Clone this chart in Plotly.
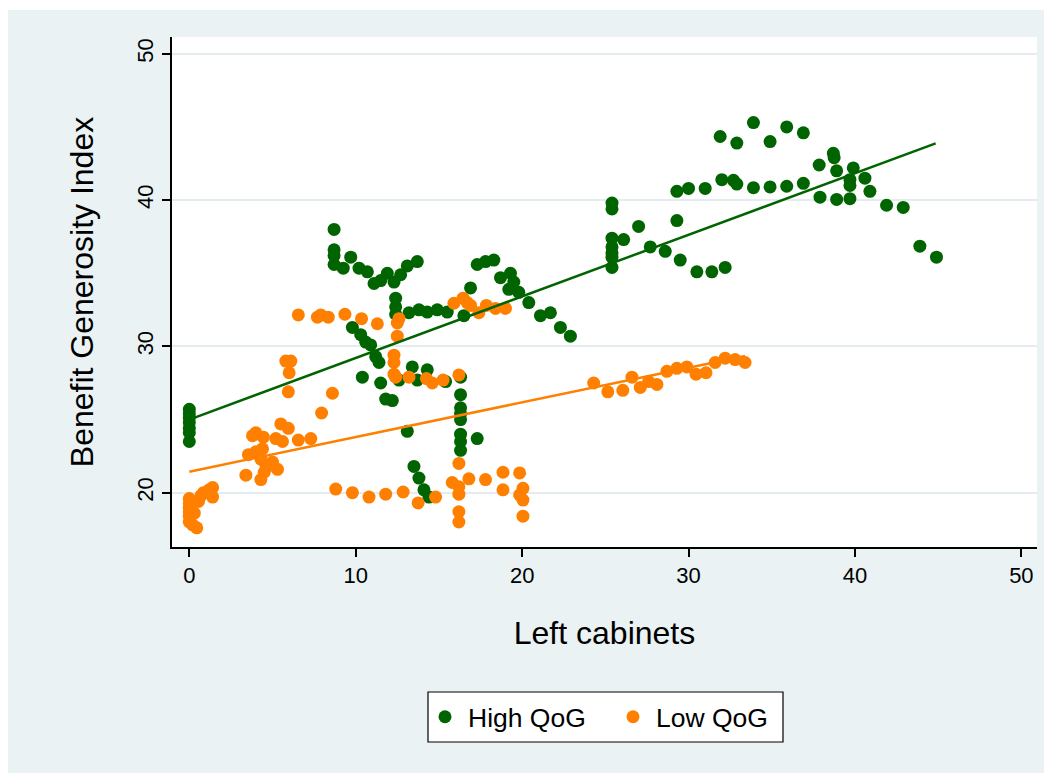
import plotly.graph_objects as go

# ---------------- data ----------------
high_x = [0, 0, 0, 0, 0, 0, 0,
          8.7, 8.7, 8.7, 8.7, 9.25, 9.7, 10.2, 10.7, 11.1, 11.5, 11.9, 12.3, 12.7, 13.1, 13.7,
          12.4, 12.4, 12.4, 13.2, 13.8, 14.3, 14.9, 15.5, 16.5, 16.9,
          9.8, 10.3, 10.6, 10.9, 11.2, 11.4, 10.4, 11.5, 11.8, 12.2, 12.6, 13.4, 13.7, 14.3, 15.4, 13.1,
          13.5, 13.8, 14.1, 14.4,
          16.3, 16.3, 16.3, 16.3, 16.3, 16.3, 16.3, 16.3, 17.3,
          17.3, 17.8, 18.3, 18.7, 19.3, 19.5, 19.2, 19.8, 20.4, 21.1, 21.7, 22.3, 22.9,
          25.4, 25.4, 25.4, 25.4, 25.4, 25.4, 25.4,
          26.1, 27.0, 27.7, 28.6, 29.3, 29.5,
          29.3, 30.0, 30.5, 31.4, 32.2, 31.0, 32.0, 32.7, 32.9, 33.9, 34.9, 35.9, 36.9, 37.9, 38.9,
          31.9, 32.9, 33.9, 34.9, 35.9, 36.9, 37.85, 38.7, 38.75, 38.9, 39.9, 40.6, 39.7, 39.7, 40.9, 39.7,
          41.9, 42.9, 43.9, 44.9]
high_y = [25.7, 25.4, 25.1, 24.8, 24.4, 24.1, 23.5,
          38.0, 36.6, 36.2, 35.6, 35.35, 36.1, 35.35, 35.1, 34.3, 34.5, 35.0, 34.4, 34.9, 35.5, 35.8,
          33.3, 32.7, 32.2, 32.3, 32.5, 32.35, 32.5, 32.35, 32.1, 34.0,
          31.3, 30.8, 30.3, 30.1, 29.3, 28.9, 27.9, 27.5, 26.4, 26.3, 27.7, 28.6, 27.7, 28.4, 27.6, 24.2,
          21.8, 21.0, 20.2, 19.7,
          27.9, 26.7, 25.8, 25.4, 25.0, 24.0, 23.5, 22.9, 23.7,
          35.6, 35.8, 35.9, 34.7, 35.0, 34.4, 33.9, 33.7, 33.0, 32.1, 32.3, 31.3, 30.7,
          39.8, 39.4, 37.4, 36.8, 36.4, 36.1, 35.4,
          37.3, 38.2, 36.8, 36.5, 38.6, 35.9,
          40.6, 40.8, 35.1, 35.1, 35.4, 40.8, 41.4, 41.35, 41.1, 40.85, 40.9, 40.95, 41.15, 40.2, 40.05,
          44.35, 43.9, 45.3, 44.0, 45.0, 44.6, 42.4, 43.2, 42.9, 42.0, 42.2, 41.5, 41.4, 41.0, 40.6, 40.1,
          39.65, 39.5, 36.85, 36.1]

low_x = [0, 0, 0, 0, 0, 0, 0.2, 0.45, 0.3, 0.55, 0.85, 1.2, 1.4, 1.4, 0.7,
         3.4, 3.55, 3.8, 4.0, 4.45, 4.0, 4.3, 4.6, 5.0, 4.5, 4.3, 4.7, 5.3, 5.5, 5.95, 5.6, 5.2, 6.55, 7.3, 4.4,
         5.8, 6.1, 6.0, 5.95, 7.95, 8.6,
         6.55, 7.7, 7.9, 8.35, 9.35, 10.35, 11.3, 12.5, 12.6, 12.5,
         12.3, 12.3, 12.3, 12.4, 13.2, 14.25, 14.6, 15.25, 16.2,
         15.9, 16.45, 16.7, 16.9, 17.4, 17.85, 18.4, 19.0,
         8.8, 9.8, 10.8, 11.8, 12.85, 13.75, 14.8, 15.8, 16.2, 16.2, 16.2, 16.2, 16.2, 16.8, 17.8,
         18.85, 18.85, 19.85, 20.05, 19.85, 20.05, 20.05,
         24.3, 25.15, 26.05, 26.6, 27.1, 27.6, 28.1, 28.7, 29.3, 29.9, 30.45, 31.05, 31.6, 32.2, 32.8, 33.4]
low_y = [19.6, 19.3, 19.0, 18.7, 18.4, 18.0, 17.8, 17.6, 18.6, 19.4, 20.0, 20.2, 20.35, 19.7, 19.8,
         21.2, 22.6, 23.9, 24.1, 23.8, 22.8, 22.3, 21.9, 22.1, 21.4, 20.9, 21.8, 21.6, 24.7, 24.4, 23.5, 23.7, 23.6, 23.7, 23.0,
         29.0, 29.0, 28.2, 26.9, 25.45, 26.8,
         32.15, 32.0, 32.15, 32.0, 32.2, 31.9, 31.55, 31.6, 31.9, 30.7,
         29.4, 28.9, 28.1, 27.9, 27.9, 27.8, 27.5, 27.7, 28.05,
         32.95, 33.3, 33.0, 32.8, 32.3, 32.8, 32.6, 32.6,
         20.25, 20.0, 19.7, 19.9, 20.05, 19.3, 19.7, 20.7, 20.4, 19.9, 18.7, 18.0, 22.0, 20.95, 20.9,
         21.4, 20.2, 21.35, 20.3, 19.85, 19.5, 18.4,
         27.5, 26.9, 27.0, 27.9, 27.2, 27.6, 27.4, 28.3, 28.5, 28.6, 28.1, 28.2, 28.9, 29.2, 29.1, 28.9]

# fitted lines
high_fit_x = [0, 44.85]
high_fit_y = [25.0, 43.88]
low_fit_x = [0, 33.4]
low_fit_y = [21.44, 29.35]

x_ticks = [0, 10, 20, 30, 40, 50]
y_ticks = [20, 30, 40, 50]

GREEN = "#006400"
ORANGE = "#FF8000"
BG = "#EAF2F3"
FONT = "Arial, Liberation Sans, sans-serif"

fig = go.Figure()
fig.add_trace(go.Scatter(x=high_x, y=high_y, mode="markers", name="High QoG",
                         marker=dict(color=GREEN, size=13, line=dict(width=0))))
fig.add_trace(go.Scatter(x=low_x, y=low_y, mode="markers", name="Low QoG",
                         marker=dict(color=ORANGE, size=13, line=dict(width=0))))
fig.add_trace(go.Scatter(x=high_fit_x, y=high_fit_y, mode="lines", showlegend=False,
                         line=dict(color=GREEN, width=2.5)))
fig.add_trace(go.Scatter(x=low_fit_x, y=low_fit_y, mode="lines", showlegend=False,
                         line=dict(color=ORANGE, width=2.5)))

# figure coordinates (page is offset by the 8px body margin)
L, R, T, B = 164, 23, 29, 234
W, H = 1052, 773
pw, ph = W - L - R, H - T - B

def px_x(p):
    return (p - L) / pw

def px_y(p):
    return (H - B - p) / ph

fig.update_layout(
    width=W, height=H,
    margin=dict(l=L, r=R, t=T, b=B, autoexpand=False),
    paper_bgcolor=BG, plot_bgcolor="white",
    font=dict(family=FONT, color="black", size=22),
    showlegend=True,
    legend=dict(orientation="h", x=px_x(414), xanchor="left", y=px_y(709), yanchor="middle",
                bgcolor="rgba(0,0,0,0)", borderwidth=0,
                font=dict(size=26.5, family=FONT), entrywidth=137, itemwidth=36),
    xaxis=dict(range=[-1.04, 50.94], tickvals=x_ticks, showgrid=False, zeroline=False,
               showline=True, linecolor="black", linewidth=1.5,
               ticks="outside", ticklen=8, tickwidth=1.5, tickcolor="black",
               tickfont=dict(size=22),
               title=dict(text="Left cabinets", font=dict(size=32), standoff=34)),
    yaxis=dict(range=[16.29, 51.15], tickvals=y_ticks, showgrid=True, gridcolor="#E4ECEF",
               gridwidth=2, zeroline=False,
               showline=True, linecolor="black", linewidth=1.5,
               ticks="outside", ticklen=8, tickwidth=1.5, tickcolor="black",
               tickangle=-90, tickfont=dict(size=22),
               title=dict(text="Benefit Generosity Index", font=dict(size=32), standoff=30)),
    shapes=[
        dict(type="rect", xref="paper", yref="paper", layer="below", line=dict(width=0),
             fillcolor="white", x0=px_x(0), x1=px_x(W), y0=px_y(2), y1=px_y(0)),
        dict(type="rect", xref="paper", yref="paper", layer="below",
             line=dict(width=1.2, color="black"), fillcolor="white",
             x0=px_x(420), x1=px_x(775), y0=px_y(734), y1=px_y(684)),
    ],
)

fig.write_html("out.html")
